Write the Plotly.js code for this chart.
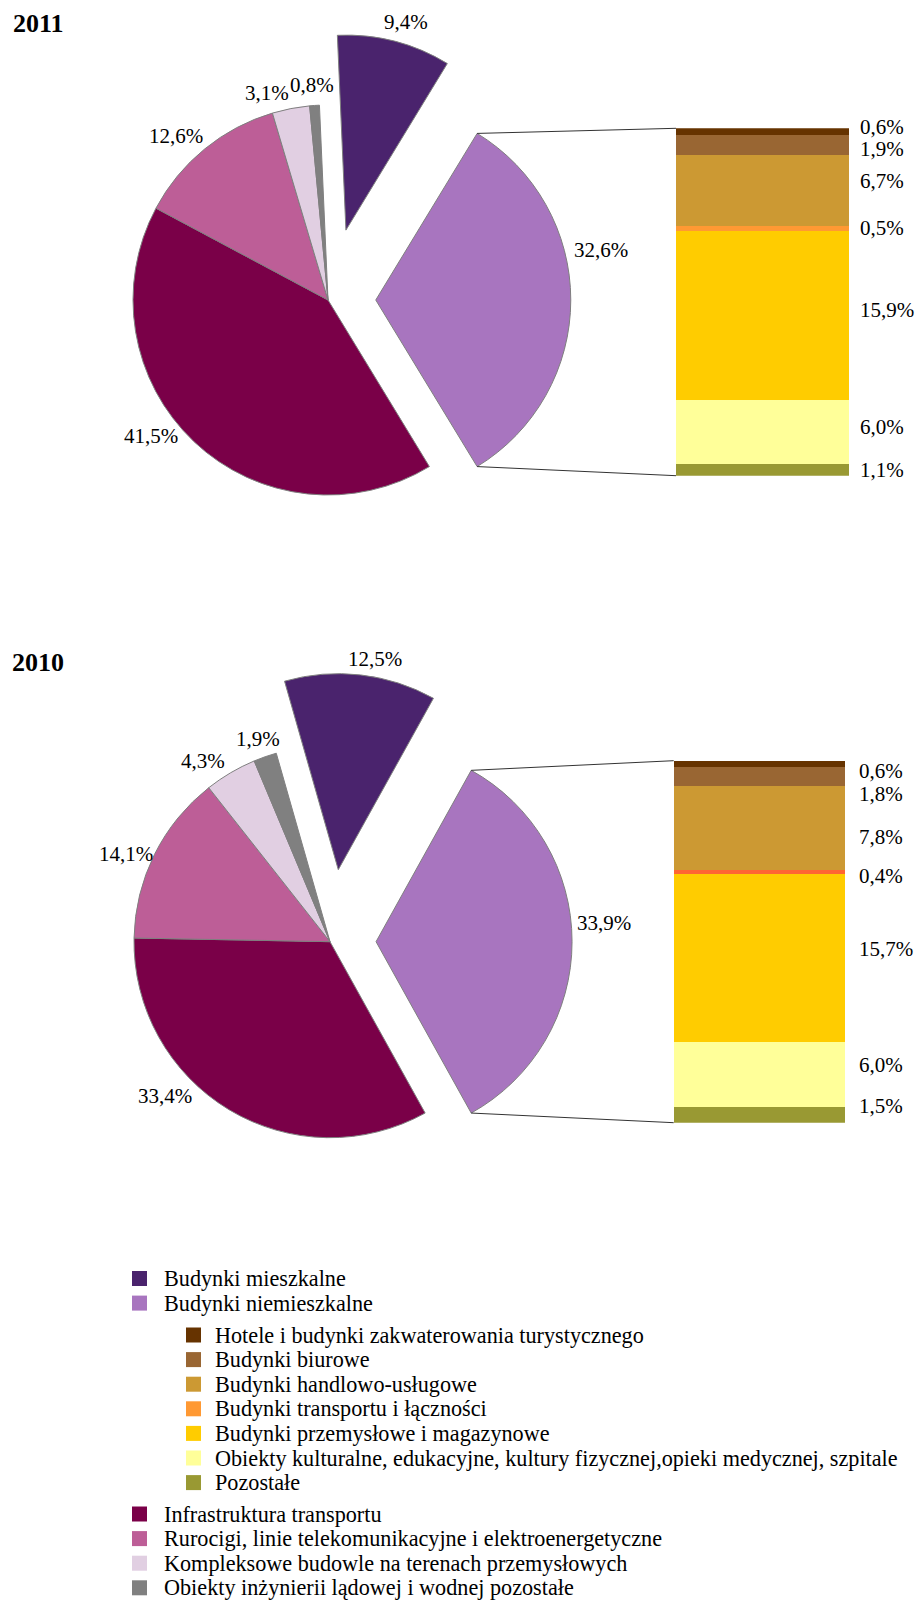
<!DOCTYPE html>
<html><head><meta charset="utf-8">
<script src="https://cdn.plot.ly/plotly-3.0.1.min.js"></script>
<style>html,body{margin:0;padding:0;background:#fff}</style>
</head><body><div id="chart" style="width:918px;height:1600px"></div>
<script>
// ---------------- DATA ----------------
const pieCategories = [
  'Budynki mieszkalne',
  'Budynki niemieszkalne',
  'Infrastruktura transportu',
  'Rurocigi, linie telekomunikacyjne i elektroenergetyczne',
  'Kompleksowe budowle na terenach przemysłowych',
  'Obiekty inżynierii lądowej i wodnej pozostałe'
];
const pieValues2011 = [9.4, 32.6, 41.5, 12.6, 3.1, 0.8];
const pieValues2010 = [12.5, 33.9, 33.4, 14.1, 4.3, 1.9];

const barCategories = [
  'Hotele i budynki zakwaterowania turystycznego',
  'Budynki biurowe',
  'Budynki handlowo-usługowe',
  'Budynki transportu i łączności',
  'Budynki przemysłowe i magazynowe',
  'Obiekty kulturalne, edukacyjne, kultury fizycznej,opieki medycznej, szpitale',
  'Pozostałe'
];
const barValues2011 = [0.6, 1.9, 6.7, 0.5, 15.9, 6.0, 1.1];
const barValues2010 = [0.6, 1.8, 7.8, 0.4, 15.7, 6.0, 1.5];
const years = ['2011', '2010'];

// ---------------- STYLE / LAYOUT ----------------
const W = 918, H = 1600;
const FONT = '"Liberation Serif", "Times New Roman", serif';
const pieColors = ['#4a236d', '#a875bf', '#7a0048', '#bd5e97', '#e1cfe2', '#808080'];
const barColors = ['#663300', '#996633', '#cc9933', '#ff9933', '#ffcc00', '#ffff99', '#999933'];
const barColors2010 = ['#663300', '#996633', '#cc9933', '#ff6633', '#ffcc00', '#ffff99', '#999933'];

const charts = [
  {
    year: years[0], pieVals: pieValues2011, barVals: barValues2011, colors: barColors,
    cx: 328, cy: 300, r: 195, pull: [0.37, 0.245, 0, 0, 0, 0],
    bar: {x0: 676, x1: 849, y0: 128.3, y1: 475.7},
    titlePx: [11, 23],
    labelPx: [[405.7, 22.3], [601, 249.5], [150.5, 435.7], [175.8, 136], [266.7, 93.3], [311.7, 85]],
    barLabelShift: [4.8, -4.2, 9.1, 1, 6, 5, -0.4], barLabelX: 9,
    xa: 'x', ya: 'y'
  },
  {
    year: years[1], pieVals: pieValues2010, barVals: barValues2010, colors: barColors2010,
    cx: 330, cy: 941.7, r: 196, pull: [0.37, 0.235, 0, 0, 0, 0],
    bar: {x0: 673.7, x1: 845, y0: 760.7, y1: 1122.7},
    titlePx: [9.5, 662],
    labelPx: [[374.7, 659.5], [604.2, 923.3], [165, 1095.8], [126.2, 854.2], [203.3, 760.8], [258, 739.2]],
    barLabelShift: [-7.4, -16.9, -9, -3.7, 9.5, 9.8, 9], barLabelX: 12,
    xa: 'x2', ya: 'y2'
  }
];

const fmt = v => v.toFixed(1).replace('.', ',') + '%';
const px2x = px => px / W;
const px2y = py => 1 - py / H;

const traces = [];
const annotations = [];
const shapes = [];
const layout = {
  width: W, height: H,
  margin: {l: 0, r: 0, t: 0, b: 0},
  paper_bgcolor: '#fff', plot_bgcolor: '#fff',
  showlegend: false, barmode: 'stack',
  font: {family: FONT, size: 21, color: '#000'},
  hovermode: false
};

charts.forEach((c, k) => {
  const total = c.pieVals.reduce((a, b) => a + b, 0);
  const rot = 90 - (c.pieVals[0] + c.pieVals[1] / 2) / total * 360;
  const maxPull = Math.max(...c.pull);
  const half = c.r * (1 + maxPull);
  traces.push({
    type: 'pie', labels: pieCategories, values: c.pieVals,
    sort: false, direction: 'clockwise', rotation: rot, pull: c.pull,
    marker: {colors: pieColors, line: {color: '#7f7f7f', width: 1}},
    textinfo: 'none', hoverinfo: 'skip', showlegend: false,
    domain: {x: [px2x(c.cx - half), px2x(c.cx + half)], y: [px2y(c.cy + half), px2y(c.cy - half)]}
  });

  // pie labels
  c.pieVals.forEach((v, i) => {
    annotations.push({
      xref: 'paper', yref: 'paper', x: px2x(c.labelPx[i][0]), y: px2y(c.labelPx[i][1]),
      xanchor: 'center', yanchor: 'middle', showarrow: false, text: fmt(v),
      font: {family: FONT, size: 21, color: '#000'}
    });
  });

  // title
  annotations.push({
    xref: 'paper', yref: 'paper', x: px2x(c.titlePx[0]), y: px2y(c.titlePx[1]),
    xanchor: 'left', yanchor: 'middle', showarrow: false, text: '<b>' + c.year + '</b>',
    font: {family: FONT, size: 26, color: '#000'}
  });

  // stacked bar (bottom first)
  const barTotal = c.barVals.reduce((a, b) => a + b, 0);
  for (let i = c.barVals.length - 1; i >= 0; i--) {
    traces.push({
      type: 'bar', x: [0], y: [c.barVals[i]], width: 1, xaxis: c.xa, yaxis: c.ya,
      marker: {color: c.colors[i], line: {width: 0}}, hoverinfo: 'skip', showlegend: false,
      name: barCategories[i]
    });
  }
  c.barVals.forEach((v, i) => {
    let below = 0;
    for (let j = i + 1; j < c.barVals.length; j++) below += c.barVals[j];
    annotations.push({
      xref: c.xa, yref: c.ya, x: 0.5, y: below + v / 2, xanchor: 'left', yanchor: 'middle',
      xshift: c.barLabelX, yshift: c.barLabelShift[i], showarrow: false, text: fmt(v),
      font: {family: FONT, size: 21, color: '#000'}
    });
  });
  const axn = k === 0 ? '' : '2';
  layout['xaxis' + axn] = {
    domain: [px2x(c.bar.x0), px2x(c.bar.x1)], range: [-0.5, 0.5], visible: false, fixedrange: true,
    anchor: c.ya
  };
  layout['yaxis' + axn] = {
    domain: [px2y(c.bar.y1), px2y(c.bar.y0)], range: [0, barTotal], visible: false, fixedrange: true,
    anchor: c.xa
  };

  // connector lines from the split slice to the bar
  const a0 = (rot + c.pieVals[0] / total * 360) * Math.PI / 180;
  const a1 = a0 + c.pieVals[1] / total * 2 * Math.PI;
  const mid = (a0 + a1) / 2;
  const scx = c.cx + c.pull[1] * c.r * Math.sin(mid);
  const scy = c.cy - c.pull[1] * c.r * Math.cos(mid);
  const p0 = [scx + c.r * Math.sin(a0), scy - c.r * Math.cos(a0)];
  const p1 = [scx + c.r * Math.sin(a1), scy - c.r * Math.cos(a1)];
  [[p0, c.bar.y0], [p1, c.bar.y1]].forEach(([p, by]) => {
    shapes.push({
      type: 'line', xref: 'paper', yref: 'paper',
      x0: px2x(p[0]), y0: px2y(p[1]), x1: px2x(c.bar.x0), y1: px2y(by),
      line: {color: '#333333', width: 1}
    });
  });
});

// custom legend
const legendGroups = [
  {names: pieCategories.slice(0, 2), colors: pieColors.slice(0, 2), startY: 1278.5, sx: 132, tx: 162},
  {names: barCategories, colors: barColors, startY: 1335, sx: 186, tx: 213},
  {names: pieCategories.slice(2), colors: pieColors.slice(2), startY: 1514, sx: 132, tx: 162}
];
const STEP = 24.6, SW = 15;
legendGroups.forEach(g => {
  g.names.forEach((name, i) => {
    const yc = g.startY + i * STEP;
    shapes.push({
      type: 'rect', xref: 'paper', yref: 'paper',
      x0: px2x(g.sx), x1: px2x(g.sx + SW), y0: px2y(yc + SW / 2), y1: px2y(yc - SW / 2),
      fillcolor: g.colors[i], line: {width: 0}
    });
    annotations.push({
      xref: 'paper', yref: 'paper', x: px2x(g.tx), y: px2y(yc), xanchor: 'left', yanchor: 'middle',
      showarrow: false, text: name, font: {family: FONT, size: 22.2, color: '#000'}
    });
  });
});

layout.annotations = annotations;
layout.shapes = shapes;

Plotly.newPlot('chart', traces, layout, {staticPlot: true, displayModeBar: false});
</script>
</body></html>
